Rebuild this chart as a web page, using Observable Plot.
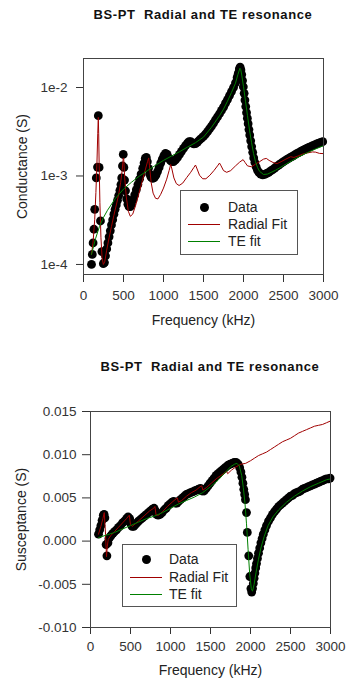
<!DOCTYPE html>
<html><head><meta charset="utf-8">
<script src="https://cdn.jsdelivr.net/npm/d3@7"></script>
<script src="https://cdn.jsdelivr.net/npm/@observablehq/plot@0.6"></script>
<style>
body{margin:0;background:#fff;}
#page{position:relative;width:348px;height:684px;overflow:hidden;font-family:"Liberation Sans",Arial,sans-serif;background:#fff;}
.title{position:absolute;font-weight:bold;font-size:13px;line-height:16px;color:#111;text-align:center;white-space:pre;letter-spacing:0.6px;}
.chart{position:absolute;left:0;}
.legend{position:absolute;background:#fff;border:1px solid #555;box-sizing:border-box;}
.row{position:absolute;left:0;height:16px;width:100%;}
.row span.t{position:absolute;font-size:14px;line-height:16px;top:0;color:#222;white-space:nowrap;}
.row span.dot{position:absolute;width:9px;height:9px;border-radius:50%;background:#000;top:3.5px;}
.row span.ln{position:absolute;width:32px;height:1px;top:8px;}
</style>
</head><body>
<div id="page"></div>
<script>
// ---------- data ----------
const titleText = "BS-PT  Radial and TE resonance";
const xLabel = "Frequency (kHz)";
const topYLabel = "Conductance (S)";
const botYLabel = "Susceptance (S)";
const legendLabels = ["Data", "Radial Fit", "TE fit"];

const xTicks = [0, 500, 1000, 1500, 2000, 2500, 3000];
const gTicks = [1e-4, 1e-3, 1e-2];
const gTickLabels = ["1e-4", "1e-3", "1e-2"];
const bTicks = [-0.010, -0.005, 0, 0.005, 0.010, 0.015];
const bTickLabels = ["-0.010", "-0.005", "0.000", "0.005", "0.010", "0.015"];

// Top: conductance data
const topFreq = [100,110,120,130,140,160,175,185,195,212,230,248,262,275,290,305,320,335,350,365,380,395,410,425,440,455,468,478,487,497,505,513,525,540,555,570,585,600,620,640,660,680,700,720,740,757,772,785,798,812,828,845,865,885,905,925,945,965,985,1005,1025,1045,1065,1085,1105,1125,1150,1175,1200,1225,1250,1275,1300,1320,1340,1360,1380,1400,1425,1450,1475,1500,1525,1550,1575,1600,1625,1650,1675,1700,1725,1750,1775,1800,1825,1850,1875,1900,1920,1935,1948,1958,1968,1978,1988,1998,2008,2018,2028,2038,2048,2058,2068,2078,2090,2102,2115,2128,2142,2158,2175,2195,2215,2240,2265,2290,2315,2340,2365,2390,2415,2440,2465,2490,2515,2540,2565,2590,2615,2640,2665,2690,2715,2740,2765,2790,2815,2840,2865,2890,2915,2940,2965,2990];
const topG = [1.0e-4,1.3e-4,1.75e-4,2.5e-4,4.2e-4,9.5e-4,1.26e-3,4.8e-3,1.25e-3,3.1e-4,1.4e-4,1.02e-4,1.05e-4,1.25e-4,1.5e-4,1.75e-4,2.05e-4,2.4e-4,2.8e-4,3.2e-4,3.7e-4,4.2e-4,4.7e-4,5.3e-4,6.0e-4,6.9e-4,8.0e-4,9.5e-4,1.3e-3,1.75e-3,1.25e-3,9.0e-4,6.8e-4,5.5e-4,4.8e-4,4.5e-4,4.5e-4,4.8e-4,5.4e-4,6.1e-4,7.0e-4,8.0e-4,9.2e-4,1.05e-3,1.22e-3,1.4e-3,1.58e-3,1.62e-3,1.45e-3,1.22e-3,1.05e-3,9.7e-4,9.4e-4,9.6e-4,1.02e-3,1.12e-3,1.25e-3,1.4e-3,1.55e-3,1.7e-3,1.8e-3,1.75e-3,1.6e-3,1.5e-3,1.45e-3,1.45e-3,1.52e-3,1.62e-3,1.75e-3,1.9e-3,2.05e-3,2.2e-3,2.35e-3,2.45e-3,2.45e-3,2.35e-3,2.3e-3,2.32e-3,2.42e-3,2.55e-3,2.67e-3,2.8e-3,2.97e-3,3.17e-3,3.4e-3,3.65e-3,3.95e-3,4.3e-3,4.65e-3,5.05e-3,5.5e-3,6.0e-3,6.65e-3,7.3e-3,8.1e-3,9.0e-3,1.0e-2,1.13e-2,1.3e-2,1.45e-2,1.62e-2,1.7e-2,1.58e-2,1.4e-2,1.2e-2,1.02e-2,8.6e-3,7.2e-3,6.1e-3,5.2e-3,4.5e-3,3.9e-3,3.35e-3,2.9e-3,2.5e-3,2.15e-3,1.85e-3,1.6e-3,1.42e-3,1.27e-3,1.16e-3,1.09e-3,1.05e-3,1.03e-3,1.04e-3,1.07e-3,1.1e-3,1.14e-3,1.18e-3,1.23e-3,1.28e-3,1.33e-3,1.38e-3,1.43e-3,1.48e-3,1.53e-3,1.58e-3,1.63e-3,1.68e-3,1.73e-3,1.79e-3,1.84e-3,1.89e-3,1.95e-3,2.0e-3,2.05e-3,2.1e-3,2.15e-3,2.2e-3,2.25e-3,2.3e-3,2.35e-3,2.4e-3,2.44e-3];

// Top: radial fit
const topRadialFreq = [100,120,140,155,168,178,185,190,196,205,218,232,248,265,290,320,350,380,410,440,465,483,497,503,515,535,560,585,615,650,690,730,770,800,815,825,845,870,900,930,965,1000,1040,1070,1090,1105,1130,1160,1195,1240,1290,1340,1380,1400,1420,1450,1490,1530,1580,1630,1675,1700,1720,1750,1790,1840,1900,1950,1995,2020,2050,2100,2150,2200,2250,2285,2320,2370,2420,2470,2530,2590,2630,2680,2740,2800,2860,2900,2950,3000];
const topRadialG = [1.3e-4,1.8e-4,3.2e-4,6.5e-4,1.4e-3,3.0e-3,4.6e-3,3.0e-3,1.3e-3,5.0e-4,2.0e-4,1.2e-4,1.0e-4,1.07e-4,1.45e-4,2.0e-4,2.7e-4,3.6e-4,4.7e-4,6.2e-4,8.5e-4,1.15e-3,1.6e-3,1.55e-3,9.5e-4,5.8e-4,4.0e-4,3.5e-4,3.7e-4,4.6e-4,6.2e-4,8.5e-4,1.15e-3,1.45e-3,1.6e-3,1.3e-3,8.5e-4,6.4e-4,5.6e-4,5.5e-4,6.2e-4,7.3e-4,9.2e-4,1.15e-3,1.35e-3,1.2e-3,9.5e-4,8.2e-4,7.8e-4,8.3e-4,9.6e-4,1.1e-3,1.25e-3,1.33e-3,1.2e-3,1.02e-3,9.3e-4,9.3e-4,1.02e-3,1.15e-3,1.3e-3,1.4e-3,1.3e-3,1.15e-3,1.1e-3,1.15e-3,1.3e-3,1.43e-3,1.53e-3,1.42e-3,1.3e-3,1.27e-3,1.36e-3,1.45e-3,1.55e-3,1.58e-3,1.5e-3,1.42e-3,1.38e-3,1.45e-3,1.55e-3,1.65e-3,1.62e-3,1.68e-3,1.77e-3,1.82e-3,1.87e-3,1.86e-3,1.8e-3,1.79e-3];

// Top: TE fit
const topTEFreq = [100,150,200,250,300,400,500,600,700,800,900,1000,1100,1200,1300,1400,1500,1600,1700,1750,1800,1850,1900,1930,1955,1965,1980,2000,2025,2050,2075,2100,2125,2150,2175,2200,2250,2300,2400,2500,2600,2700,2800,2900,3000];
const topTEG = [1.3e-4,1.95e-4,2.7e-4,3.4e-4,4.1e-4,5.6e-4,7.1e-4,8.5e-4,1.0e-3,1.15e-3,1.32e-3,1.5e-3,1.68e-3,1.88e-3,2.12e-3,2.38e-3,2.75e-3,3.55e-3,4.8e-3,5.7e-3,7.0e-3,8.8e-3,1.12e-2,1.4e-2,1.65e-2,1.6e-2,1.35e-2,1.02e-2,7.0e-3,4.8e-3,3.3e-3,2.4e-3,1.8e-3,1.45e-3,1.25e-3,1.13e-3,1.04e-3,1.05e-3,1.16e-3,1.31e-3,1.48e-3,1.66e-3,1.84e-3,2.02e-3,2.2e-3];

// Bottom: susceptance data
const botFreq = [100,115,130,145,160,170,180,195,205,218,230,245,260,280,300,325,350,375,400,425,450,470,490,505,520,540,560,580,600,625,650,675,700,725,750,775,795,810,825,845,870,895,920,945,970,995,1020,1040,1060,1080,1100,1125,1150,1175,1200,1225,1250,1275,1300,1325,1350,1375,1395,1420,1445,1470,1495,1520,1545,1570,1595,1620,1645,1670,1695,1720,1745,1770,1795,1820,1845,1865,1880,1893,1905,1916,1927,1937,1950,1960,1978,1992,2005,2015,2025,2035,2045,2055,2065,2075,2087,2100,2115,2130,2145,2160,2180,2200,2225,2250,2275,2300,2325,2350,2375,2400,2425,2450,2475,2500,2525,2550,2575,2600,2625,2650,2675,2700,2725,2750,2775,2800,2825,2850,2875,2900,2925,2950,2975,2995];
const botB = [0.0008,0.0013,0.0018,0.0024,0.0030,0.0031,0.0027,-0.0004,-0.0017,-0.0002,0.0003,0.0005,0.0007,0.0009,0.0011,0.0013,0.0016,0.0018,0.0021,0.0023,0.0026,0.0028,0.0026,0.0020,0.0017,0.0017,0.0019,0.0021,0.0023,0.0025,0.0027,0.0029,0.0031,0.0033,0.0035,0.0037,0.0038,0.0035,0.0031,0.0030,0.0031,0.0033,0.0036,0.0038,0.0041,0.0043,0.0045,0.0046,0.0044,0.0044,0.0046,0.0048,0.0050,0.0052,0.0054,0.0055,0.0056,0.0057,0.0058,0.0059,0.0060,0.0061,0.0058,0.0058,0.0061,0.0064,0.0067,0.0070,0.0073,0.0076,0.0078,0.0080,0.0082,0.0084,0.0086,0.0088,0.0089,0.0090,0.0091,0.0091,0.0089,0.0085,0.0080,0.0074,0.0067,0.0060,0.0054,0.0048,0.0033,0.0010,-0.0017,-0.0041,-0.0055,-0.0059,-0.0055,-0.0049,-0.0043,-0.0037,-0.0031,-0.0026,-0.0020,-0.0014,-0.0008,-0.0002,0.0003,0.0008,0.0013,0.0018,0.0023,0.0027,0.0031,0.0034,0.0037,0.0040,0.0042,0.0044,0.0046,0.0048,0.0050,0.0052,0.0053,0.0055,0.0056,0.0057,0.0058,0.0060,0.0061,0.0062,0.0063,0.0064,0.0065,0.0066,0.0067,0.0068,0.0069,0.0070,0.0071,0.0072,0.0072,0.0073];

// Bottom: radial fit
const botRadialFreq = [100,130,155,172,188,200,210,222,250,300,350,400,450,485,500,520,560,620,680,740,790,805,820,850,900,960,1020,1070,1085,1100,1140,1200,1260,1320,1370,1390,1405,1450,1510,1570,1630,1680,1700,1715,1760,1820,1880,1940,2000,2050,2100,2150,2200,2250,2300,2350,2400,2450,2500,2550,2600,2650,2700,2750,2800,2850,2900,2950,3000];
const botRadialB = [0.0008,0.0017,0.0026,0.0033,0.0008,-0.0018,-0.0006,0.0002,0.0006,0.0011,0.0016,0.0021,0.0026,0.0030,0.0019,0.0017,0.0020,0.0025,0.0030,0.0035,0.0038,0.0040,0.0030,0.0030,0.0034,0.0040,0.0045,0.0049,0.0050,0.0045,0.0047,0.0052,0.0056,0.0059,0.0063,0.0064,0.0059,0.0062,0.0067,0.0072,0.0076,0.0079,0.0081,0.0078,0.0082,0.0086,0.0089,0.0090,0.0093,0.0096,0.0099,0.0101,0.0103,0.0106,0.0109,0.0112,0.0115,0.0117,0.0119,0.0122,0.0125,0.0127,0.0129,0.0131,0.0133,0.0134,0.0135,0.0137,0.0139];

// Bottom: TE fit
const botTEFreq = [100,200,300,400,500,600,700,800,900,1000,1100,1200,1300,1400,1500,1600,1700,1750,1800,1830,1860,1890,1910,1930,1950,1970,1990,2010,2025,2045,2070,2100,2130,2170,2220,2280,2350,2450,2550,2650,2750,2850,2950,3000];
const botTEB = [0.0004,0.0007,0.0010,0.0014,0.0018,0.0022,0.0026,0.0029,0.0033,0.0038,0.0043,0.0047,0.0051,0.0056,0.0063,0.0071,0.0081,0.0086,0.0089,0.0090,0.0087,0.0076,0.0062,0.0045,0.0020,-0.0010,-0.0038,-0.0055,-0.0058,-0.0050,-0.0036,-0.0021,-0.0008,0.0005,0.0018,0.0028,0.0036,0.0045,0.0052,0.0058,0.0063,0.0067,0.0071,0.0072];

// ---------- build ----------
const zip = (fs, vs) => fs.map((f, i) => ({f, v: vs[i]}));
const FONT = "Liberation Sans, Arial, sans-serif";
const RED = "#a00000", GREEN = "#008000";
const page = document.getElementById("page");

function addTitle(left, top, width) {
  const d = document.createElement("div");
  d.className = "title";
  d.style.left = left + "px"; d.style.top = top + "px"; d.style.width = width + "px";
  d.textContent = titleText;
  page.appendChild(d);
}

function addLegend(left, top, w, h, rows, dotX, lineX, textX) {
  const box = document.createElement("div");
  box.className = "legend";
  Object.assign(box.style, {left: left + "px", top: top + "px", width: w + "px", height: h + "px"});
  legendLabels.forEach((lab, i) => {
    const r = document.createElement("div");
    r.className = "row";
    r.style.top = (rows[i] - 8) + "px";
    if (i === 0) {
      const s = document.createElement("span"); s.className = "dot"; s.style.left = (dotX - 4.5) + "px"; r.appendChild(s);
    } else {
      const s = document.createElement("span"); s.className = "ln"; s.style.left = lineX + "px";
      s.style.background = (i === 1 ? RED : GREEN); r.appendChild(s);
    }
    const t = document.createElement("span"); t.className = "t"; t.style.left = textX + "px"; t.textContent = lab;
    r.appendChild(t);
    box.appendChild(r);
  });
  page.appendChild(box);
}

// Top chart
addTitle(83, 7, 240);
const topPlot = Plot.plot({
  width: 348, height: 310,
  marginTop: 28, marginBottom: 66, marginLeft: 83, marginRight: 25,
  style: {fontFamily: FONT, fontSize: "13.5px", color: "#333", background: "transparent", overflow: "visible"},
  x: {domain: [0, 3000], ticks: xTicks, tickSize: 8, tickPadding: 8, label: null, tickFormat: d => String(d)},
  y: {type: "log", domain: [7.7e-5, 0.02127], ticks: gTicks, tickFormat: d => gTickLabels[gTicks.indexOf(d)], tickSize: 7, tickPadding: 9, label: null},
  marks: [
    Plot.dot(zip(topFreq, topG), {x: "f", y: "v", r: 4.4, fill: "#000", stroke: "none"}),
    Plot.line(zip(topRadialFreq, topRadialG), {x: "f", y: "v", stroke: RED, strokeWidth: 1}),
    Plot.line(zip(topTEFreq, topTEG), {x: "f", y: "v", stroke: GREEN, strokeWidth: 1}),
    Plot.frame({stroke: "#444"}),
    Plot.text([xLabel], {text: d => d, frameAnchor: "bottom", lineAnchor: "middle", textAnchor: "middle", dy: 46.5, fontSize: 14, fill: "#222"}),
    Plot.text([topYLabel], {text: d => d, frameAnchor: "left", lineAnchor: "middle", textAnchor: "middle", dx: -61, rotate: -90, fontSize: 14, fill: "#222"})
  ]
});
topPlot.classList.add("chart");
topPlot.style.top = "30px";
page.appendChild(topPlot);
addLegend(180, 190, 118, 65, [16, 33, 50], 23, 7, 47);

// Bottom chart
addTitle(90, 359, 240);
const botPlot = Plot.plot({
  width: 348, height: 299,
  marginTop: 26, marginBottom: 57, marginLeft: 90, marginRight: 18,
  style: {fontFamily: FONT, fontSize: "13.5px", color: "#333", background: "transparent", overflow: "visible"},
  x: {domain: [0, 3000], ticks: xTicks, tickSize: 7, tickPadding: 6.5, label: null, tickFormat: d => String(d)},
  y: {domain: [-0.010, 0.015], ticks: bTicks, tickFormat: d => bTickLabels[bTicks.findIndex(t => Math.abs(t - d) < 1e-9)], tickSize: 8, tickPadding: 6, label: null},
  marks: [
    Plot.dot(zip(botFreq, botB), {x: "f", y: "v", r: 4.4, fill: "#000", stroke: "none"}),
    Plot.line(zip(botRadialFreq, botRadialB), {x: "f", y: "v", stroke: RED, strokeWidth: 1}),
    Plot.line(zip(botTEFreq, botTEB), {x: "f", y: "v", stroke: GREEN, strokeWidth: 1}),
    Plot.frame({stroke: "#444"}),
    Plot.text([xLabel], {text: d => d, frameAnchor: "bottom", lineAnchor: "middle", textAnchor: "middle", dy: 43.5, fontSize: 14, fill: "#222"}),
    Plot.text([botYLabel], {text: d => d, frameAnchor: "left", lineAnchor: "middle", textAnchor: "middle", dx: -69, rotate: -90, fontSize: 14, fill: "#222"})
  ]
});
botPlot.classList.add("chart");
botPlot.style.top = "385px";
page.appendChild(botPlot);
addLegend(122, 544, 115, 63, [14, 32, 49], 23, 7, 46);
</script>
</body></html>
